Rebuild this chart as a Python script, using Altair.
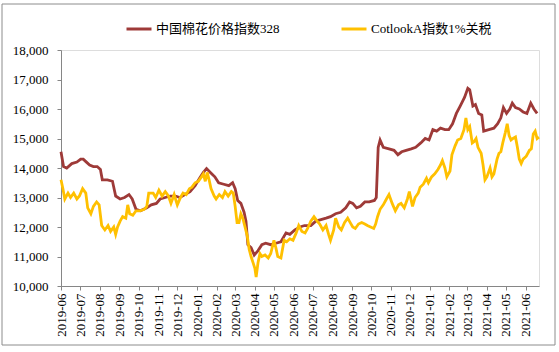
import altair as alt
import pandas as pd

S1 = "中国棉花价格指数328"
S2 = "CotlookA指数1%关税"

red_dates = [
    "2019-06-01","2019-06-03","2019-06-05","2019-06-10","2019-06-18","2019-06-26","2019-07-02","2019-07-06",
    "2019-07-11","2019-07-16","2019-07-22","2019-07-28","2019-08-02","2019-08-05","2019-08-13","2019-08-21",
    "2019-08-26","2019-09-02","2019-09-09","2019-09-16","2019-09-21","2019-09-27","2019-10-04","2019-10-14",
    "2019-10-21","2019-10-29","2019-11-04","2019-11-12","2019-11-20","2019-11-28","2019-12-05","2019-12-13",
    "2019-12-21","2019-12-29","2020-01-05","2020-01-11","2020-01-16","2020-01-22","2020-01-29","2020-02-04",
    "2020-02-12","2020-02-20","2020-02-26","2020-03-01","2020-03-05","2020-03-10","2020-03-15","2020-03-18",
    "2020-03-21","2020-03-26","2020-03-31","2020-04-06","2020-04-12","2020-04-18","2020-04-26","2020-05-04",
    "2020-05-12","2020-05-20","2020-05-26","2020-06-03","2020-06-11","2020-06-18","2020-06-28","2020-07-06",
    "2020-07-14","2020-07-22","2020-07-29","2020-08-06","2020-08-14","2020-08-22","2020-08-28","2020-09-02",
    "2020-09-08","2020-09-14","2020-09-21","2020-09-28","2020-10-06","2020-10-09","2020-10-12","2020-10-15",
    "2020-10-20","2020-10-29","2020-11-06","2020-11-12","2020-11-18","2020-11-25","2020-12-03","2020-12-10",
    "2020-12-18","2020-12-25","2020-12-31","2021-01-06","2021-01-12","2021-01-18","2021-01-25","2021-01-31",
    "2021-02-06","2021-02-12","2021-02-18","2021-02-25","2021-03-02","2021-03-05","2021-03-10","2021-03-14",
    "2021-03-19","2021-03-24","2021-03-27","2021-04-04","2021-04-12","2021-04-18","2021-04-23","2021-04-27",
    "2021-05-02","2021-05-07","2021-05-11","2021-05-16","2021-05-22","2021-05-28","2021-06-03","2021-06-09",
    "2021-06-14","2021-06-19",
]
red_values = [
    14550,14300,14050,14000,14150,14200,14300,14300,
    14200,14100,14050,14050,13950,13600,13600,13550,
    13050,12950,13000,13100,12950,12600,12550,12650,
    12750,12800,12950,13000,13050,13050,13000,13100,
    13200,13400,13650,13850,13980,13850,13700,13500,
    13450,13400,13500,13300,12900,12800,12500,12200,
    11400,11300,11050,11200,11400,11450,11400,11450,
    11500,11800,11750,11900,12000,12050,12050,12200,
    12250,12300,12350,12450,12500,12650,12850,12800,
    12650,12700,12850,12850,12900,13000,14700,14950,
    14700,14650,14600,14450,14550,14600,14650,14700,
    14850,15000,14950,15300,15250,15350,15300,15300,
    15500,15850,16100,16400,16700,16650,16100,16150,
    15850,15800,15250,15300,15350,15500,15700,16050,
    15850,16000,16200,16050,16000,15900,15850,16200,
    16000,15850,
]

yel_dates = [
    "2019-06-01","2019-06-04","2019-06-07","2019-06-12","2019-06-16","2019-06-21","2019-06-26","2019-06-30",
    "2019-07-05","2019-07-10","2019-07-13","2019-07-18","2019-07-22","2019-07-27","2019-07-31","2019-08-04",
    "2019-08-09","2019-08-14","2019-08-18","2019-08-23","2019-08-26","2019-08-29","2019-09-02","2019-09-06",
    "2019-09-11","2019-09-14","2019-09-17","2019-09-22","2019-09-27","2019-10-03","2019-10-10","2019-10-14",
    "2019-10-17","2019-10-24","2019-10-28","2019-11-02","2019-11-07","2019-11-12","2019-11-17","2019-11-21",
    "2019-11-26","2019-12-01","2019-12-06","2019-12-10","2019-12-15","2019-12-20","2019-12-24","2019-12-29",
    "2020-01-03","2020-01-08","2020-01-11","2020-01-14","2020-01-17","2020-01-20","2020-01-23","2020-01-28",
    "2020-01-31","2020-02-05","2020-02-10","2020-02-14","2020-02-19","2020-02-24","2020-02-27","2020-03-01",
    "2020-03-04","2020-03-07","2020-03-10","2020-03-13","2020-03-16","2020-03-20","2020-03-23","2020-03-26",
    "2020-03-29","2020-04-01","2020-04-03","2020-04-06","2020-04-09","2020-04-12","2020-04-17","2020-04-22",
    "2020-04-26","2020-05-01","2020-05-04","2020-05-07","2020-05-12","2020-05-17","2020-05-21","2020-05-26",
    "2020-05-31","2020-06-05","2020-06-09","2020-06-14","2020-06-19","2020-06-23","2020-06-28","2020-07-03",
    "2020-07-08","2020-07-12","2020-07-17","2020-07-22","2020-07-26","2020-07-29","2020-08-03","2020-08-06",
    "2020-08-11","2020-08-15","2020-08-20","2020-08-25","2020-08-29","2020-09-02","2020-09-06","2020-09-11",
    "2020-09-16","2020-09-21","2020-09-25","2020-09-30","2020-10-05","2020-10-08","2020-10-11","2020-10-15",
    "2020-10-20","2020-10-25","2020-10-29","2020-11-03","2020-11-08","2020-11-13","2020-11-17","2020-11-22",
    "2020-11-27","2020-11-30","2020-12-05","2020-12-09","2020-12-14","2020-12-17","2020-12-22","2020-12-27",
    "2020-12-30","2021-01-04","2021-01-09","2021-01-14","2021-01-18","2021-01-21","2021-01-25","2021-01-28",
    "2021-02-02","2021-02-05","2021-02-10","2021-02-14","2021-02-19","2021-02-24","2021-02-27","2021-03-02",
    "2021-03-05","2021-03-09","2021-03-12","2021-03-15","2021-03-18","2021-03-23","2021-03-26","2021-03-29",
    "2021-04-01","2021-04-06","2021-04-09","2021-04-12","2021-04-17","2021-04-20","2021-04-23","2021-04-26",
    "2021-04-30","2021-05-03","2021-05-06","2021-05-09","2021-05-12","2021-05-16","2021-05-19","2021-05-22",
    "2021-05-25","2021-05-28","2021-06-02","2021-06-07","2021-06-10","2021-06-13","2021-06-16","2021-06-19",
    "2021-06-22",
]
yel_values = [
    13600,13300,12950,13150,13000,13150,12950,13050,
    13300,13150,12650,12450,12700,12850,12750,12050,
    11900,12050,11850,12000,11750,12000,12200,12350,
    12300,12750,12450,12400,12550,12550,12600,12700,
    13150,13150,13000,13250,13050,13200,13050,12800,
    13100,12750,13000,13150,13100,13300,13350,13500,
    13550,13700,13800,13550,13850,13600,13300,13050,
    12950,13100,13000,13200,13050,13200,13150,12700,
    12150,12150,12450,12300,12050,11700,11250,11000,
    10800,10600,10300,10800,11100,11000,11050,10950,
    11100,11550,11300,11000,10950,11550,11500,11600,
    11550,11800,12050,11850,11800,11950,12200,12350,
    12200,12100,11900,12050,11750,11550,11900,12300,
    12000,11900,12150,12300,12150,12000,11950,12100,
    12150,12100,12050,12000,11950,12100,12350,12600,
    12750,12950,13100,12800,12550,12750,12800,12650,
    12950,13200,12700,13000,13150,13350,13450,13650,
    13500,13700,13800,13950,14100,14250,14000,13700,
    13900,14450,14750,14950,15000,15300,15700,15300,
    15400,14850,14900,15000,14700,14500,14100,13600,
    13700,14000,13700,13800,14300,14500,14550,14850,
    15200,15500,15100,14950,15000,15050,14700,14300,
    14150,14300,14400,14600,14650,15150,15250,15000,
    15050,
]

df = pd.concat([
    pd.DataFrame({"date": red_dates, "value": red_values, "series": S1}),
    pd.DataFrame({"date": yel_dates, "value": yel_values, "series": S2}),
])

FONT = "Liberation Serif, Times New Roman, Noto Sans CJK SC"
AXIS_GRAY = "#868686"

month_ticks = [f"{yy}-{mm:02d}-01" for yy, mm in
               [(2019, m) for m in range(6, 13)] + [(2020, m) for m in range(1, 13)] + [(2021, m) for m in range(1, 7)]]

color = alt.Color(
    "series:N",
    scale=alt.Scale(domain=[S1, S2], range=["#9E3A38", "#FFC000"]),
    legend=alt.Legend(
        title=None, orient="none", direction="horizontal",
        legendX=64, legendY=-35,
        symbolType="stroke", symbolSize=625, symbolStrokeWidth=3,
        labelFont=FONT, labelFontSize=13, labelColor="#000000",
        labelOffset=3, columnPadding=55,
    ),
)

x = alt.X(
    "date:T",
    scale=alt.Scale(domain=["2019-06-01", "2021-06-22"]),
    axis=alt.Axis(
        title=None, format="%Y-%m", labelAngle=270,
        values=month_ticks,
        grid=False, tickSize=4, labelPadding=3,
        labelFont=FONT, labelFontSize=13, labelColor="#000000",
        domainColor=AXIS_GRAY, tickColor=AXIS_GRAY,
    ),
)
y = alt.Y(
    "value:Q",
    scale=alt.Scale(domain=[10000, 18000], nice=False),
    axis=alt.Axis(
        title=None, values=list(range(10000, 18001, 1000)), format=",.0f",
        grid=False, tickSize=4, labelPadding=9,
        labelFont=FONT, labelFontSize=13, labelColor="#000000",
        domainColor=AXIS_GRAY, tickColor=AXIS_GRAY,
    ),
)

base = alt.Chart(df)
red = base.transform_filter(alt.datum.series == S1).mark_line(strokeWidth=2.8).encode(x=x, y=y, color=color)
yel = base.transform_filter(alt.datum.series == S2).mark_line(strokeWidth=2.8).encode(x=x, y=y, color=color)

border = alt.Chart(alt.Data(values=[{"a": 1}])).mark_rect(
    filled=False, stroke="#8C8C8C", strokeWidth=1
).encode(x=alt.value(-59), x2=alt.value(494), y=alt.value(-46), y2=alt.value(295))

chart = alt.layer(border, red, yel).properties(
    width=478, height=236,
    padding={"left": 61, "top": 50, "right": 20, "bottom": 66},
    autosize=alt.AutoSizeParams(type="none"),
).configure_view(stroke=None).configure(background="#FFFFFF")

chart.save("out.html", embed_options={"renderer": "svg", "actions": False})
